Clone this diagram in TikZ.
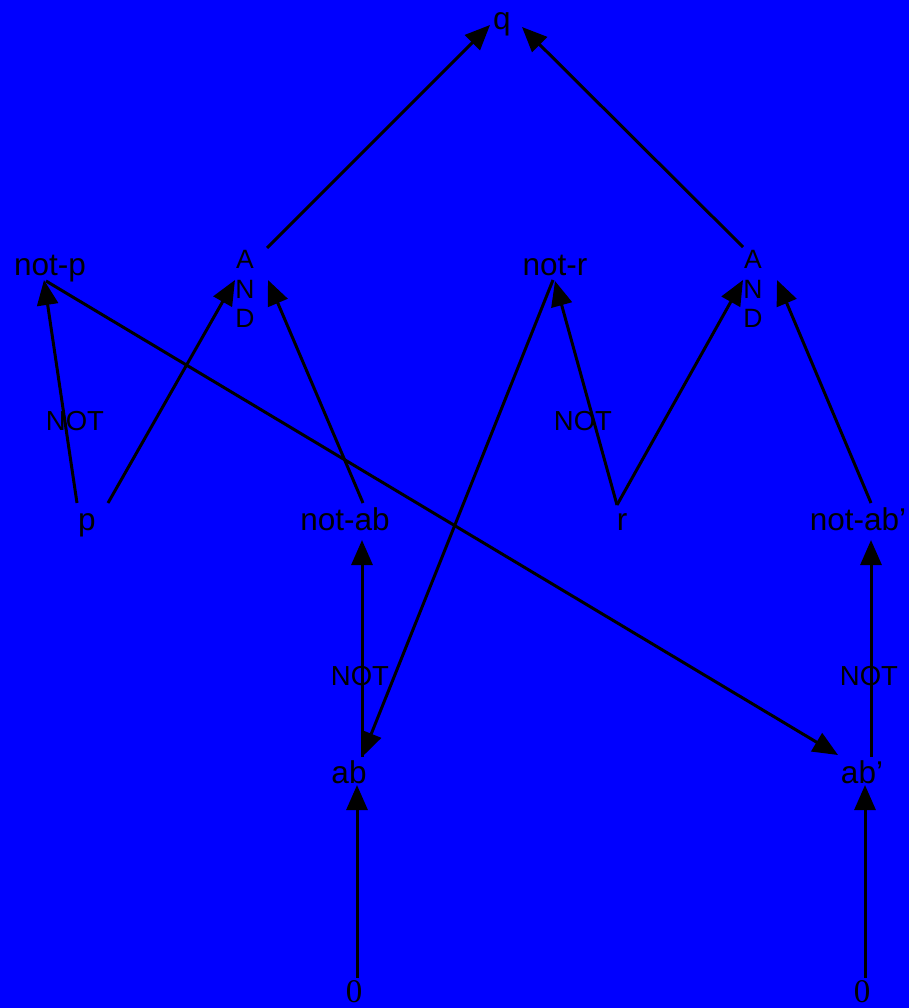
\documentclass[tikz,border=0pt]{standalone}
\usepackage{fontspec}
\setmainfont{Liberation Sans}
\newfontfamily\digitfont{Liberation Serif}
\usetikzlibrary{arrows.meta}

\tikzset{
  lbl/.style={anchor=base, inner sep=0pt, font=\fontsize{31.5}{36}\selectfont},
  notlbl/.style={anchor=base, inner sep=0pt, font=\fontsize{27.5}{32}\selectfont},
  gate/.style={align=center, inner sep=0pt, font=\fontsize{26.5}{29.5}\selectfont},
  zero/.style={anchor=base, inner sep=0pt, font=\digitfont\fontsize{33}{38}\selectfont},
  wire/.style={line width=3pt, -{Triangle[length=25pt,width=21pt]}}
}

\begin{document}
\begin{tikzpicture}[x=1pt,y=-1pt]
  \fill[blue] (0,0) rectangle (909,1008);

  % goal
  \node[lbl] (q) at (502,30) {q};

  % gate row
  \node[lbl]  (notp) at (50,275)  {not-p};
  \node[gate] (andL) at (245,289) {A\\N\\D};
  \node[lbl]  (notr) at (555,275) {not-r};
  \node[gate] (andR) at (753,289) {A\\N\\D};

  % inputs
  \node[lbl] (p)      at (87,530)  {p};
  \node[lbl] (notab)  at (345,530) {not-ab};
  \node[lbl] (r)      at (622,530) {r};
  \node[lbl] (notabp) at (858,530) {not-ab’};
  \node[lbl] (ab)     at (349,783) {ab};
  \node[lbl] (abp)    at (862,783) {ab’};
  \node[zero] (zeroL) at (354,1002) {0};
  \node[zero] (zeroR) at (862,1002) {0};

  % NOT labels
  \node[notlbl] (notA) at (75,430)  {NOT};
  \node[notlbl] (notB) at (583,430) {NOT};
  \node[notlbl] (notC) at (360,685) {NOT};
  \node[notlbl] (notD) at (869,685) {NOT};

  % connectors
  \draw[wire] ([shift={(-10,-27)}]p.base) -- ([shift={(-6,5)}]notp.base);
  \draw[wire] ([shift={(21,-27)}]p.base) -- ([shift={(-10,-9)}]andL.center);
  \draw[wire] ([shift={(18,-27)}]notab.base) -- ([shift={(23,-9)}]andL.center);
  \draw[wire] ([shift={(22,-41)}]andL.center) -- ([shift={(-12,-5)}]q.base);
  \draw[wire] ([shift={(-10,-42)}]andR.center) -- ([shift={(20,-3)}]q.base);
  \draw[wire] ([shift={(-5,-25)}]r.base) -- ([shift={(0,6)}]notr.base);
  \draw[wire] ([shift={(-5,-25)}]r.base) -- ([shift={(-10,-9)}]andR.center);
  \draw[wire] ([shift={(13,-27)}]notabp.base) -- ([shift={(24,-9)}]andR.center);
  \draw[wire] ([shift={(-4,6)}]notp.base) -- ([shift={(-24,-28)}]abp.base);
  \draw[wire] ([shift={(-2,5)}]notr.base) -- ([shift={(13,-26)}]ab.base);
  \draw[wire] ([shift={(13,-26)}]ab.base) -- ([shift={(17,10)}]notab.base);
  \draw[wire] ([shift={(9,-26)}]abp.base) -- ([shift={(13,10)}]notabp.base);
  \draw[wire] ([shift={(3,-24)}]zeroL.base) -- ([shift={(8,2)}]ab.base);
  \draw[wire] ([shift={(3,-24)}]zeroR.base) -- ([shift={(3,2)}]abp.base);
\end{tikzpicture}
\end{document}
